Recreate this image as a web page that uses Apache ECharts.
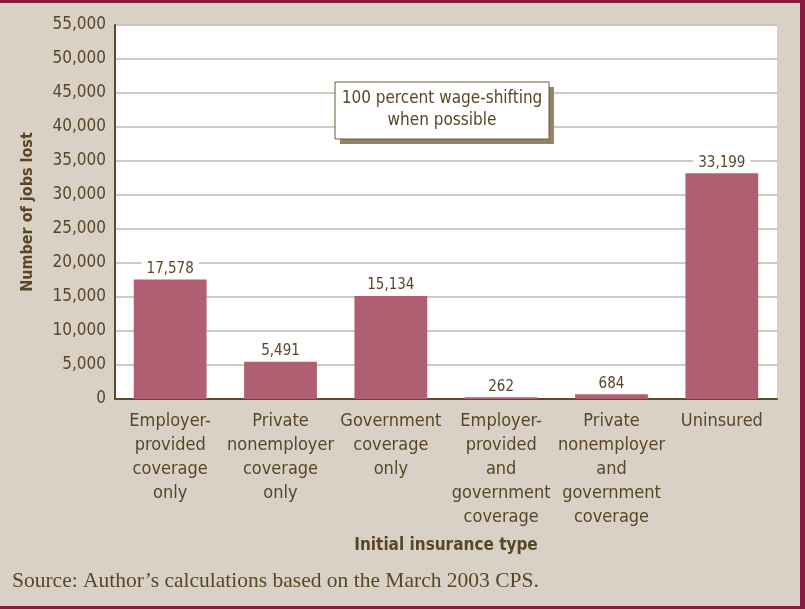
<!DOCTYPE html>
<html><head><meta charset="utf-8">
<script src="https://cdn.jsdelivr.net/npm/echarts@6/dist/echarts.min.js"></script>
<style>html,body{margin:0;padding:0;background:#d9d1c6;}#c{width:805px;height:609px;}</style>
</head><body><div id="c"></div>
<script>
var categories = ["Employer-\nprovided\ncoverage\nonly","Private\nnonemployer\ncoverage\nonly","Government\ncoverage\nonly","Employer-\nprovided\nand\ngovernment\ncoverage","Private\nnonemployer\nand\ngovernment\ncoverage","Uninsured"];
var jobsLost = [17578, 5491, 15134, 262, 684, 33199];

var txt = '#5a4626';
var cond = '"Liberation Sans Narrow","DejaVu Sans Condensed",sans-serif';
var chart = echarts.init(document.getElementById('c'));
chart.setOption({
  backgroundColor: '#d9d1c6',
  animation: false,
  grid: {left: 115, right: 28, top: 25, bottom: 210, containLabel: false},
  xAxis: {
    type: 'category', data: categories,
    axisLine: {lineStyle: {color: '#5c4a2a', width: 2}},
    axisTick: {show: false},
    axisLabel: {color: txt, fontFamily: cond, fontSize: 18, lineHeight: 24, margin: 10, interval: 0},
    name: 'Initial insurance type', nameLocation: 'middle', nameGap: 138,
    nameTextStyle: {color: txt, fontFamily: cond, fontSize: 17, fontWeight: 'bold'}
  },
  yAxis: {
    type: 'value', min: 0, max: 55000, interval: 5000,
    axisLine: {show: true, lineStyle: {color: '#5c4a2a', width: 2}},
    axisTick: {show: false},
    splitLine: {lineStyle: {color: '#c3b7aa', width: 1.5}},
    axisLabel: {color: txt, fontFamily: cond, fontSize: 17, margin: 9,
      formatter: function(v){return v.toLocaleString('en-US');}},
    name: 'Number of jobs lost', nameLocation: 'middle', nameGap: 79, nameRotate: 90,
    nameTextStyle: {color: txt, fontFamily: cond, fontSize: 16, fontWeight: 'bold'}
  },
  series: [{
    type: 'bar', data: jobsLost, barWidth: '66%',
    itemStyle: {color: '#b05f72'},
    label: {show: true, position: 'top', distance: 3, color: txt, fontFamily: cond, fontSize: 15,
      backgroundColor: '#ffffff', padding: [0, 5],
      formatter: function(p){return p.value.toLocaleString('en-US');}}
  }],
  graphic: [
    {type: 'rect', shape: {x: 115, y: 25, width: 662, height: 374}, z: -1, silent: true, style: {fill: '#ffffff'}},
    {type: 'rect', shape: {x: 0, y: 0, width: 805, height: 3}, style: {fill: '#8b1a3f'}},
    {type: 'rect', shape: {x: 800, y: 0, width: 5, height: 609}, style: {fill: '#8b1a3f'}},
    {type: 'rect', shape: {x: 0, y: 606, width: 805, height: 3}, style: {fill: '#8b1a3f'}},
    {type: 'rect', shape: {x: 340, y: 87, width: 214, height: 57}, z: 10, style: {fill: '#948467'}},
    {type: 'rect', shape: {x: 335, y: 82, width: 214, height: 57}, z: 11, style: {fill: '#ffffff', stroke: '#6b5a3a', lineWidth: 1}},
    {type: 'text', x: 442, y: 110, z: 12, style: {text: '100 percent wage-shifting\nwhen possible', align: 'center', verticalAlign: 'middle',
      fill: txt, font: '17px ' + cond, lineHeight: 22}},
    {type: 'text', x: 12, y: 581, style: {text: 'Source: Author\u2019s calculations based on the March 2003 CPS.', verticalAlign: 'middle',
      fill: txt, font: '21.5px "Liberation Serif", serif'}}
  ]
});
</script></body></html>
